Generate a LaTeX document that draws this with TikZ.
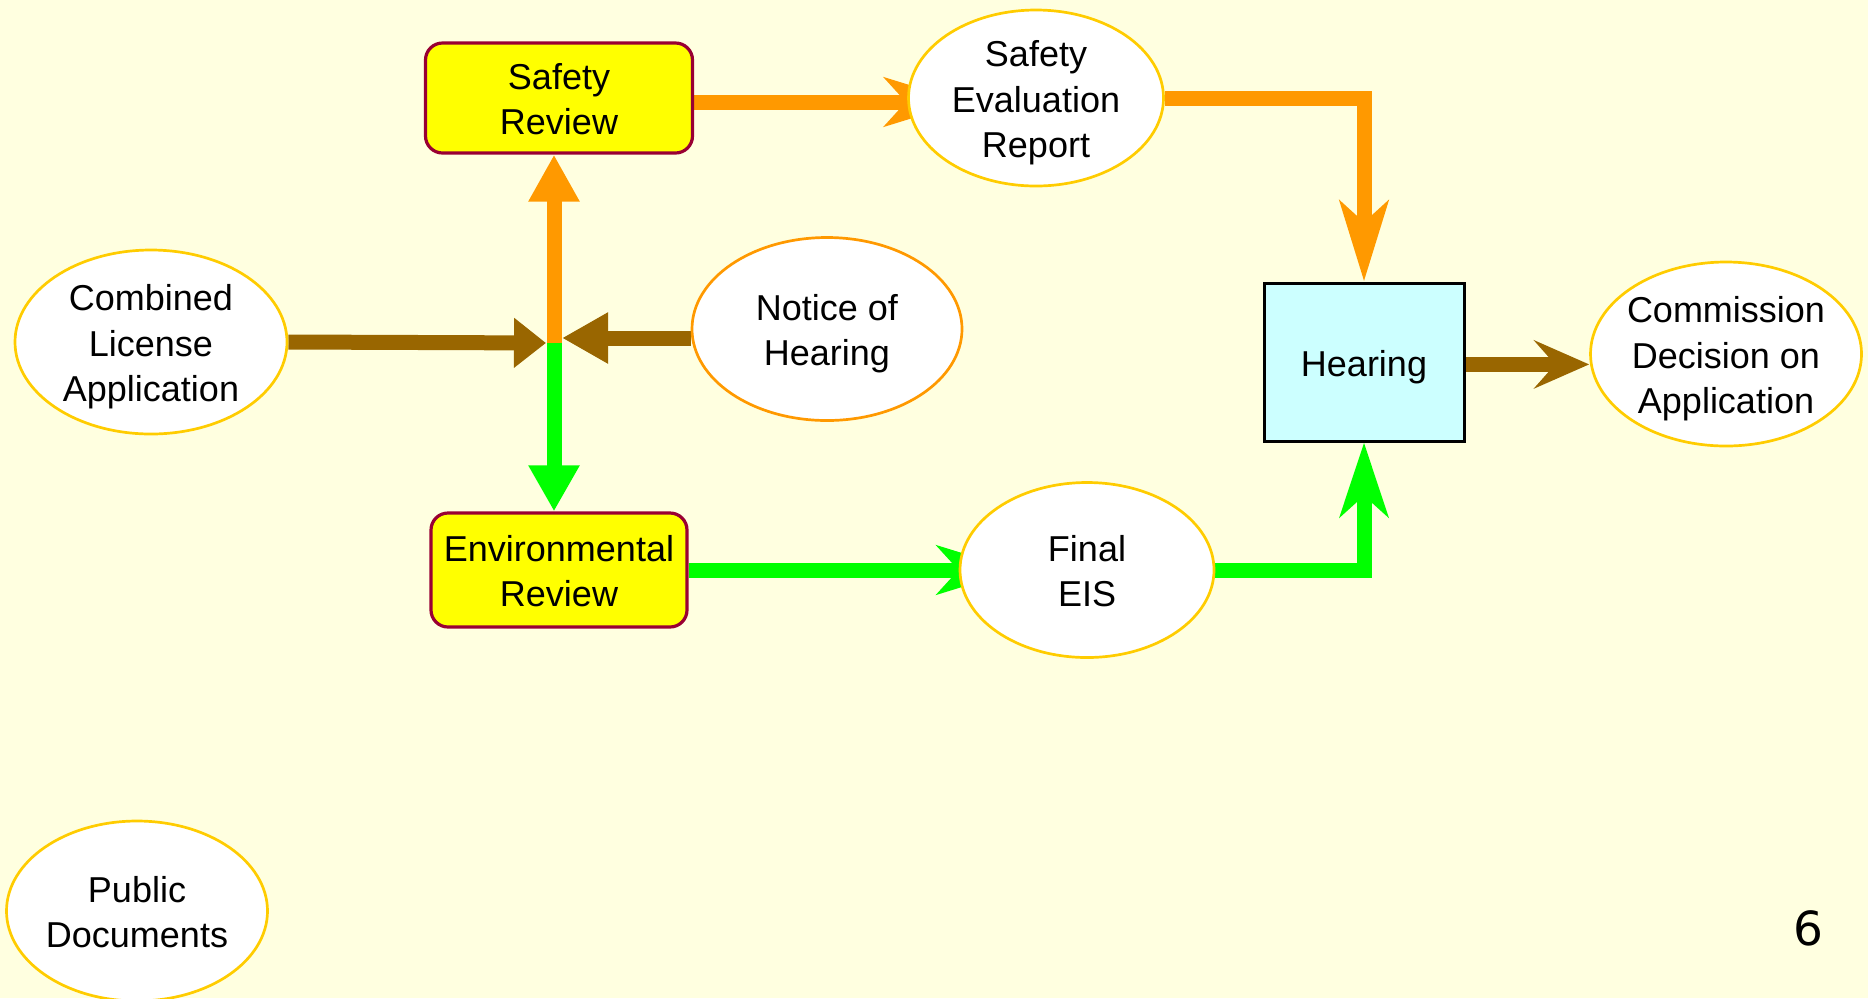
\documentclass[tikz,border=0pt]{standalone}
\usepackage{fontspec}
\setmainfont{Liberation Sans}
\newfontfamily\pagenumfont{DejaVu Sans}
\usetikzlibrary{arrows.meta, shapes.geometric}
\definecolor{slidebg}{HTML}{FFFFE0}
\definecolor{boxyellow}{HTML}{FFFF00}
\definecolor{boxrim}{HTML}{990033}
\definecolor{ovalrim}{HTML}{FFCC00}
\definecolor{floworange}{HTML}{FF9900}
\definecolor{flowbrown}{HTML}{996600}
\definecolor{flowgreen}{HTML}{00FF00}
\definecolor{hearingbg}{HTML}{CCFFFF}
\pgfdeclarelayer{bg}
\pgfdeclarelayer{edges}
\pgfsetlayers{bg,edges,main}

\begin{document}
\begin{tikzpicture}[x=0.5pt, y=-0.5pt,
        every node/.style={font=\fontsize{18}{22.8}\selectfont, align=center, inner sep=0pt, text depth=0pt},
        oneline/.style={text height=14pt},
        twoline/.style={text height=36.8pt},
        threeline/.style={text height=59.6pt},
        review/.style={rectangle, rounded corners=8.5pt, draw=boxrim, line width=1.6pt, fill=boxyellow},
        oval/.style={ellipse, draw=ovalrim, line width=1.35pt, fill=white, inner xsep=-6pt},
        flow/.style={line width=7.5pt},
        tri/.style={-{Triangle[length=#1, width=24pt]}},
        tri/.default=23pt,
        barb/.style={-{Stealth[length=#1, width=24pt, inset=10.5pt]}},
        barb/.default=40pt]
        \useasboundingbox (0,0) rectangle (1868,998);
        \begin{pgfonlayer}{bg}
        \fill [slidebg] (0,0) rectangle (1868,998);
        \end{pgfonlayer}
        % boxes and ovals
        \node [review, twoline, minimum width=133.5pt, minimum height=55pt] (sr) at (559,98) {Safety\\Review};
        \node [oval, threeline, minimum width=127.5pt, minimum height=88pt] (ser) at (1036,98) {Safety\\Evaluation\\Report};
        \node [oval, threeline, minimum width=136pt, minimum height=92pt] (cla) at (151,342) {Combined\\License\\Application};
        \node [oval, twoline, draw=floworange, minimum width=135pt, minimum height=91.5pt] (noh) at (827,329) {Notice of\\Hearing};
        \node [rectangle, oneline, draw=black, line width=1.5pt, fill=hearingbg, minimum width=100pt, minimum height=79pt] (hear) at (1364,362) {Hearing};
        \node [oval, threeline, minimum width=135.5pt, minimum height=92pt] (cdec) at (1726,354) {Commission\\Decision on\\Application};
        \node [review, twoline, minimum width=128pt, minimum height=57pt] (er) at (559,570) {Environmental\\Review};
        \node [oval, twoline, minimum width=127pt, minimum height=87.5pt] (eis) at (1087,570) {Final\\EIS};
        \node [oval, twoline, minimum width=130.5pt, minimum height=90pt] (pubdoc) at (137,911) {Public\\Documents};
        \node [font=\pagenumfont\fontsize{23.5}{28}\selectfont, text depth=] (pagenum) at (1808,928) {6};
        \coordinate (j) at (554,343);
        % flows
        \begin{pgfonlayer}{edges}
        \draw [flow, floworange, tri=23.5pt] (j) -- (j |- sr.south);
        \draw [flow, flowgreen, tri] (j) -- (j |- er.north);
        \draw [flow, flowbrown, tri=16pt, shorten >=4pt] (cla.east) -- (j);
        \draw [flow, flowbrown, tri, shorten >=4pt] ([yshift=-4.5pt]noh.west) -- ([yshift=-4.5pt]noh.west -| j);
        \draw [flow, floworange, barb, shorten >=-29pt] ([yshift=-2pt]sr.east) -- ([yshift=-2pt]sr.east -| ser.west);
        \draw [flow, floworange, barb] (ser.east) -| (hear.north);
        \draw [flow, flowgreen, barb, shorten >=-29.5pt] (er.east) -- (eis.west);
        \draw [flow, flowgreen, barb=37pt] (eis.east) -| (hear.south);
        \draw [flow, flowbrown, barb=27.5pt] ([yshift=-1.2pt]hear.east) -- ([yshift=-1.2pt]hear.east -| cdec.west);
        \end{pgfonlayer}
\end{tikzpicture}
\end{document}
